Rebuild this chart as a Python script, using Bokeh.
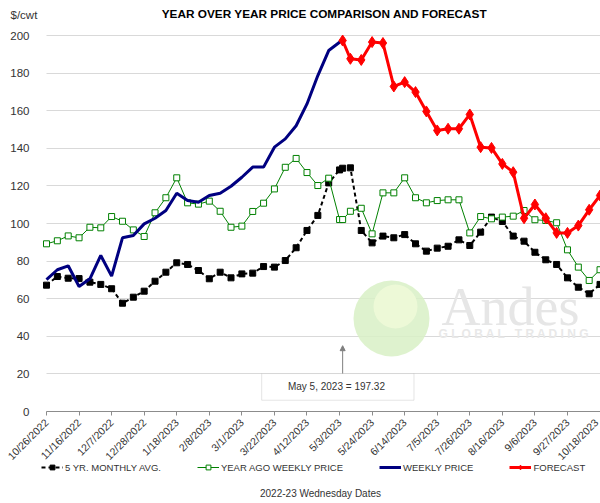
import numpy as np
import pandas as pd
from bokeh.plotting import figure
from bokeh.models import (FixedTicker, Legend, LegendItem, Label, BoxAnnotation,
                          Arrow, NormalHead, ColumnDataSource, Range1d)
from bokeh.embed import file_html
from bokeh.resources import INLINE

# ---------------- data ----------------
start_date = pd.Timestamp("2022-10-26")
week_dates = list(pd.date_range("2022-10-26", periods=52, freq="7D"))
forecast_date = pd.Timestamp("2023-05-05")
dates = sorted(week_dates + [forecast_date])

tick_labels = ["10/26/2022", "11/16/2022", "12/7/2022", "12/28/2022", "1/18/2023",
               "2/8/2023", "3/1/2023", "3/22/2023", "4/12/2023", "5/3/2023",
               "5/24/2023", "6/14/2023", "7/5/2023", "7/26/2023", "8/16/2023",
               "9/6/2023", "9/27/2023", "10/18/2023"]
y_ticks = [0, 20, 40, 60, 80, 100, 120, 140, 160, 180, 200]

five_yr_avg = [67.2, 71.8, 70.9, 70.7, 68.8, 67.6, 65.3, 57.6, 60.8, 64.0,
               69.3, 74.1, 79.1, 78.2, 75.0, 70.6, 74.1, 71.1, 73.2, 73.6,
               77.1, 76.8, 80.3, 87.1, 96.3, 104.3, 121.6, 128.5, 129.4, 129.6,
               96.3, 89.7, 93.3, 92.4, 94.1, 89.2, 85.3, 86.9, 87.9, 91.3,
               88.3, 95.4, 103.4, 101.1, 93.3, 90.6, 84.7, 80.7, 78.2, 71.1,
               66.1, 62.6, 67.6]

year_ago = [89.2, 90.8, 93.4, 92.4, 98.0, 97.7, 103.7, 101.2, 96.6, 93.1,
            105.7, 113.7, 124.3, 111.0, 110.3, 111.9, 106.5, 98.0, 98.6, 106.4,
            110.8, 118.4, 129.9, 134.6, 127.1, 120.2, 124.1, 102.1, 102.1, 106.5,
            108.1, 94.5, 116.3, 116.3, 124.3, 113.7, 111.0, 112.2, 112.6, 112.6,
            95.0, 103.7, 102.5, 103.4, 103.9, 106.9, 102.0, 101.6, 100.4, 86.0,
            76.8, 69.7, 75.4]

weekly_price = [70.2, 75.4, 77.5, 66.5, 70.6, 83.0, 72.0, 92.4, 93.6, 99.8,
                102.8, 106.9, 116.1, 112.2, 111.3, 114.9, 116.1, 119.8, 124.6, 130.0,
                130.0, 140.6, 145.0, 152.0, 163.6, 178.7, 192.0, 196.4, 197.32]

forecast = [197.32, 187.6, 187.0, 196.5, 196.0, 172.9, 175.2, 169.9, 159.6, 149.5,
            150.4, 150.4, 158.0, 140.6, 140.2, 131.7, 127.3, 102.8, 110.1, 102.8,
            95.0, 95.0, 98.9, 107.3, 114.9]

chart_title = "YEAR OVER YEAR PRICE COMPARISON AND FORECAST"
y_unit = "$/cwt"
x_title = "2022-23 Wednesday Dates"
annotation_text = "May 5, 2023  = 197.32"

# ---------------- geometry (page px) ----------------
PAGE_W, PAGE_H = 600, 503
PLOT_LEFT, PLOT_TOP = 46, 35       # where day 0 / value 200 sit
AXIS_Y = 411                       # page y of value 0
X_END = 357.3                      # days shown at the right edge
px_per_unit = (AXIS_Y - PLOT_TOP) / 200.0
y_low = -(PAGE_H - AXIS_Y) / px_per_unit
y_high = 200 + PLOT_TOP / px_per_unit
px_per_day = (PAGE_W - PLOT_LEFT) / X_END
x_low = -PLOT_LEFT / px_per_day


def day_offset(d):
    return (pd.Timestamp(d) - start_date).days

x_all = [day_offset(d) for d in dates]
fc_idx = dates.index(forecast_date)
x_weekly = x_all[:fc_idx + 1]
x_fc = x_all[fc_idx:]
tick_days = [day_offset(pd.to_datetime(t, format="%m/%d/%Y")) for t in tick_labels]
x_ann = day_offset(forecast_date)

src_avg = ColumnDataSource(dict(x=x_all, y=five_yr_avg))
src_ago = ColumnDataSource(dict(x=x_all, y=year_ago))
src_wk = ColumnDataSource(dict(x=x_weekly, y=weekly_price))
src_fc = ColumnDataSource(dict(x=x_fc, y=forecast))

FONT = "Liberation Sans"
TXT = "#333333"

p = figure(frame_width=PAGE_W, frame_height=PAGE_H,
           x_range=Range1d(x_low, X_END), y_range=Range1d(y_low, y_high),
           output_backend="svg", toolbar_location=None,
           min_border_left=0, min_border_right=0,
           min_border_top=0, min_border_bottom=0, margin=0)
p.outline_line_color = None
p.background_fill_color = "white"
p.border_fill_color = "white"
p.xgrid.visible = False

# horizontal gridlines only over the plotting area (from day 0 to the right edge)
grid = p.ygrid[0]
grid.ticker = FixedTicker(ticks=y_ticks)
if "cross_bounds" in grid.properties():
    grid.cross_bounds = (0, X_END)
    grid.grid_line_color = "#d9d9d9"
    grid.grid_line_width = 1
else:
    grid.visible = False
    p.segment(x0=[0] * len(y_ticks), x1=[X_END] * len(y_ticks), y0=y_ticks, y1=y_ticks,
              line_color="#d9d9d9", line_width=1, level="underlay")

p.yaxis.fixed_location = 0
p.yaxis.ticker = FixedTicker(ticks=y_ticks)
p.yaxis.axis_line_color = None
p.yaxis.major_tick_line_color = None
p.yaxis.minor_tick_line_color = None
p.yaxis.major_label_standoff = 11
p.yaxis.major_label_text_font = FONT
p.yaxis.major_label_text_font_size = "11.5px"
p.yaxis.major_label_text_color = TXT

p.xaxis.fixed_location = 0
p.xaxis.ticker = FixedTicker(ticks=tick_days)
p.xaxis.major_label_overrides = {d: lab for d, lab in zip(tick_days, tick_labels)}
p.xaxis.major_label_orientation = np.pi / 4
p.xaxis.minor_tick_line_color = None
p.xaxis.major_tick_in = 0
p.xaxis.major_tick_out = 4
p.xaxis.major_tick_line_color = "#8c8c8c"
p.xaxis.axis_line_color = "#8c8c8c"
p.xaxis.bounds = (0, X_END)
p.xaxis.major_label_standoff = 5
p.xaxis.major_label_text_font = FONT
p.xaxis.major_label_text_font_size = "10.5px"
p.xaxis.major_label_text_color = TXT


def sy(ay):
    return PAGE_H - ay


def screen_label(text, ax, ay, size, font=FONT, **kw):
    return Label(x=ax, y=sy(ay), x_units="screen", y_units="screen", text=text,
                 text_font=font, text_font_size=size, **kw)


def screen_disc(cx, cy, r, color, alpha):
    return BoxAnnotation(left=cx - r, right=cx + r, bottom=sy(cy + r), top=sy(cy - r),
                         left_units="screen", right_units="screen",
                         bottom_units="screen", top_units="screen",
                         border_radius=r, fill_color=color, fill_alpha=alpha,
                         line_color=None, level="underlay")

# header texts
p.add_layout(screen_label(chart_title, 324, 13, "11.8px", text_color="black",
                          text_align="center", text_baseline="middle",
                          text_font_style="bold"))
p.add_layout(screen_label(y_unit, 10, 14, "11.5px", text_color=TXT,
                          text_align="left", text_baseline="middle"))

# watermark (sphere + wordmark)
p.add_layout(screen_disc(391, 318, 38, "#d8f0c6", 0.85))
p.add_layout(screen_disc(395, 306, 22, "#eefad8", 0.9))
p.add_layout(screen_label("Andes", 441, 306, "54px", text_color="#e6e6e6",
                          text_align="left", text_baseline="middle",
                          font="Liberation Serif", level="underlay"))
p.add_layout(screen_label("G L O B A L\u00a0\u00a0\u00a0T R A D I N G", 438, 333, "12px",
                          text_color="#e8e8e8", text_align="left", text_baseline="middle",
                          text_font_style="bold", level="underlay"))

# series
l_avg = p.line("x", "y", source=src_avg, line_color="black", line_width=2, line_dash="4 3")
s_avg = p.scatter("x", "y", source=src_avg, marker="square", size=6,
                  fill_color="black", line_color="black")
l_ago = p.line("x", "y", source=src_ago, line_color="#008000", line_width=1)
s_ago = p.scatter("x", "y", source=src_ago, marker="square", size=6,
                  fill_color="white", line_color="#008000", line_width=1)
l_wk = p.line("x", "y", source=src_wk, line_color="#000080", line_width=3)
l_fc = p.line("x", "y", source=src_fc, line_color="#ff0000", line_width=3)
s_fc = p.scatter("x", "y", source=src_fc, marker="diamond", size=11,
                 fill_color="#ff0000", line_color="#ff0000")

# annotation box + arrow
p.add_layout(BoxAnnotation(left=x_ann - 52.2, right=x_ann + 46.0, bottom=6.0, top=20.2,
                           fill_color="white", fill_alpha=1.0,
                           line_color="#a6a6a6", line_width=1))
p.add_layout(Label(x=x_ann - 3.1, y=13.1, text=annotation_text, text_align="center",
                   text_baseline="middle", text_font=FONT, text_font_size="10px",
                   text_color=TXT))
p.add_layout(Arrow(x_start=x_ann, y_start=20.2, x_end=x_ann, y_end=35.0,
                   line_color="#7f7f7f", line_width=1,
                   end=NormalHead(size=5, fill_color="#7f7f7f", line_color="#7f7f7f")))

# x title
p.add_layout(screen_label(x_title, 320, 493, "10px", text_color=TXT,
                          text_align="center", text_baseline="middle"))

legend = Legend(items=[
    LegendItem(label="5 YR. MONTHLY AVG.", renderers=[l_avg, s_avg]),
    LegendItem(label="YEAR AGO WEEKLY PRICE", renderers=[l_ago, s_ago]),
    LegendItem(label="WEEKLY PRICE", renderers=[l_wk]),
    LegendItem(label="FORECAST", renderers=[l_fc, s_fc]),
], orientation="horizontal", location=(41, sy(473)), spacing=36, padding=0, margin=0,
    glyph_width=22, glyph_height=12, label_standoff=2, label_height=12,
    label_text_font=FONT, label_text_font_size="9.5px", label_text_color=TXT,
    border_line_color=None, background_fill_alpha=0)
p.add_layout(legend)

open("out.html", "w").write(file_html(p, INLINE))
